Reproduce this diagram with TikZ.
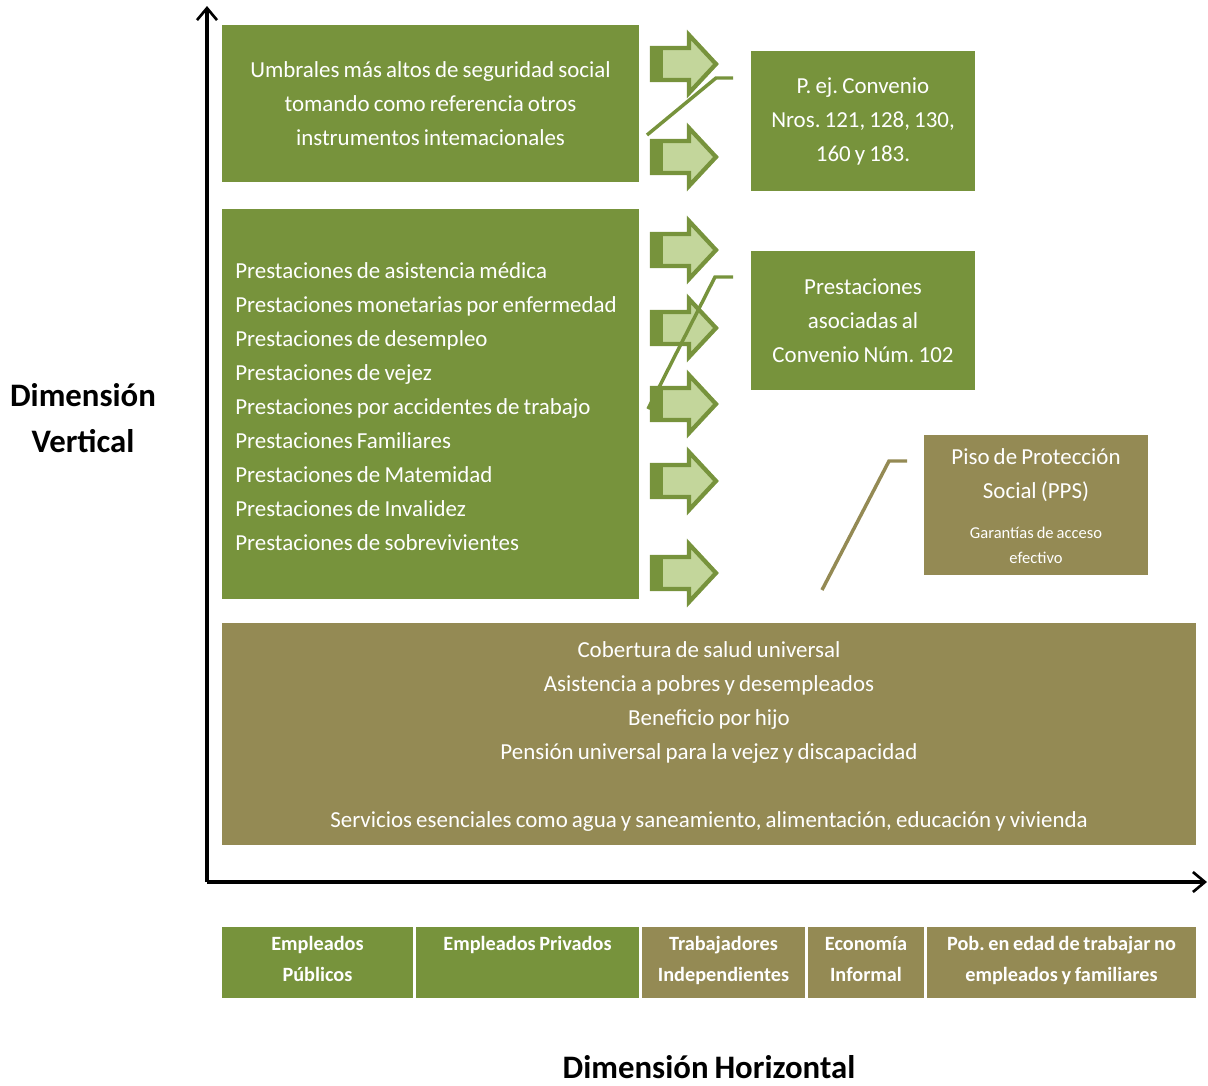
\documentclass[tikz,border=0pt]{standalone}
\usepackage{fontspec}
\setmainfont{Carlito}[WordSpace=0.8]
\usetikzlibrary{arrows.meta}
\definecolor{grn}{HTML}{77933C}
\definecolor{olv}{HTML}{948A54}
\definecolor{lgrn}{HTML}{C3D69B}
\def\px{0.75pt}
\begin{document}
\frenchspacing
\begin{tikzpicture}[x=0.75pt,y=-0.75pt,
  box/.style={draw=white, line width=1pt, inner sep=0pt, text=white, align=center,
    font=\fontsize{17.2}{25.5}\selectfont},
  gbox/.style={box, fill=grn},
  obox/.style={box, fill=olv},
  txt/.style={text=white, inner sep=0pt, align=center, font=\fontsize{17.2}{25.5}\selectfont},
  smalltxt/.style={text=white, inner sep=0pt, align=center, font=\fontsize{12.4}{18.75}\selectfont},
  celltxt/.style={text=white, inner sep=0pt, align=center, anchor=north, font=\bfseries\fontsize{15.2}{23.2}\selectfont},
  dimlabel/.style={inner sep=0pt, align=center, font=\bfseries\fontsize{24.6}{35}\selectfont},
  blockarrow/.style={fill=lgrn, draw=grn, line width=3.2pt, line join=miter},
  arrowband/.style={fill=grn},
  callg/.style={draw=grn, line width=2.6pt},
  callo/.style={draw=olv, line width=2.6pt},
  axis/.style={draw=black, line width=2.4pt, -{Straight Barb[length=9pt,width=15pt,line width=2pt]}}
]
\useasboundingbox (0,0) rectangle (1208,1086);

% main boxes
\node[gbox, minimum width=419*\px, minimum height=159*\px] (umbr) at (430.5,103.5)
  {Umbrales más altos de seguridad social\\tomando como referencia otros\\instrumentos intemacionales};
\node[gbox, minimum width=419*\px, minimum height=392*\px] (prest) at (430.5,404) {};
\node[txt, align=left, anchor=west] (prestt) at (235,406.5)
  {Prestaciones de asistencia médica\\Prestaciones monetarias por enfermedad\\Prestaciones de desempleo\\Prestaciones de vejez\\Prestaciones por accidentes de trabajo\\Prestaciones Familiares\\Prestaciones de Matemidad\\Prestaciones de Invalidez\\Prestaciones de sobrevivientes};
\node[gbox, minimum width=226*\px, minimum height=142*\px] (conv) at (863,121)
  {P. ej. Convenio\\Nros. 121, 128, 130,\\160 y 183.};
\node[gbox, minimum width=226*\px, minimum height=141*\px] (c102) at (863,320.5)
  {Prestaciones\\asociadas al\\Convenio Núm. 102};
\node[obox, minimum width=226*\px, minimum height=142*\px] (pps) at (1036,505) {};
\node[txt] (ppst) at (1036,475) {Piso de Protección\\Social (PPS)};
\node[smalltxt] (ppss) at (1036,545.5) {Garantías de acceso\\efectivo};
\node[obox, minimum width=976*\px, minimum height=224*\px] (piso) at (709,734) {};
\node[txt] (pisot) at (709,736.5)
  {Cobertura de salud universal\\Asistencia a pobres y desempleados\\Beneficio por hijo\\Pensión universal para la vejez y discapacidad\\[25.5pt]Servicios esenciales como agua y saneamiento, alimentación, educación y vivienda};

% block arrows
\foreach \cy in {64,157,250,328,404,481,573} {
  \draw[blockarrow] (652,\cy-16) -- (689,\cy-16) -- (689,\cy-29) -- (716,\cy)
    -- (689,\cy+29) -- (689,\cy+16) -- (652,\cy+16) -- cycle;
  \fill[arrowband] (652,\cy-16) rectangle (663,\cy+16);
}

% callout lines
\coordinate (c1s) at (647,135);
\coordinate (c1b) at (716,78);
\coordinate (c1e) at (733,78);
\draw[callg] (c1s) -- (c1b) -- (c1e);
\coordinate (c2s) at (648,409);
\coordinate (c2b) at (715,277);
\coordinate (c2e) at (733,277);
\draw[callg] (c2s) -- (c2b) -- (c2e);
\coordinate (c3s) at (822,590);
\coordinate (c3b) at (889,461);
\coordinate (c3e) at (907,461);
\draw[callo] (c3s) -- (c3b) -- (c3e);

% axes
\coordinate (O) at (207,882);
\coordinate (ytop) at (207,6);
\coordinate (xend) at (1207,882);
\draw[axis] (O) -- (ytop);
\draw[axis] (O) -- (xend);

% bottom categories
\node[gbox, minimum width=193*\px, minimum height=73*\px] (cat1) at (317.5,962.5) {};
\node[gbox, minimum width=225*\px, minimum height=73*\px] (cat2) at (527.5,962.5) {};
\node[obox, minimum width=165*\px, minimum height=73*\px] (cat3) at (723.5,962.5) {};
\node[obox, minimum width=118*\px, minimum height=73*\px] (cat4) at (866,962.5) {};
\node[obox, minimum width=271*\px, minimum height=73*\px] (cat5) at (1061.5,962.5) {};
\node[celltxt] (cat1t) at (317.5,936) {Empleados\\Públicos};
\node[celltxt] (cat2t) at (527.5,936) {Empleados Privados};
\node[celltxt] (cat3t) at (723.5,936) {Trabajadores\\Independientes};
\node[celltxt] (cat4t) at (866,936) {Economía\\Informal};
\node[celltxt] (cat5t) at (1061.5,936) {Pob. en edad de trabajar no\\empleados y familiares};

% axis labels
\node[dimlabel] (dimv) at (83,418) {Dimensión\\Vertical};
\node[dimlabel] (dimh) at (709,1067) {Dimensión Horizontal};
\end{tikzpicture}
\end{document}
